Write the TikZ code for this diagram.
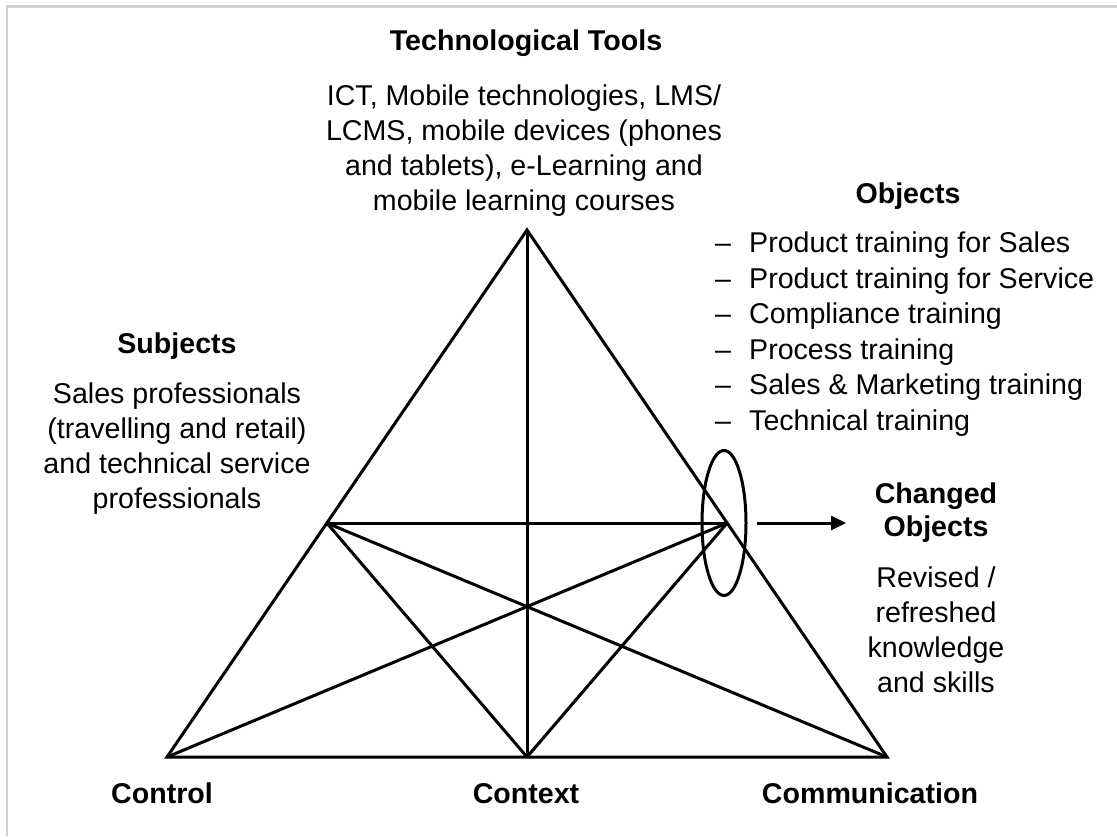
\documentclass[tikz,border=0pt]{standalone}
\usepackage{fontspec}
\setmainfont{Liberation Sans}
\usetikzlibrary{shapes.geometric,arrows.meta,calc}
\definecolor{framegray}{RGB}{208,208,208}
\begin{document}
\begin{tikzpicture}[x=1pt,y=-1pt,
  edge/.style={line width=3pt, line join=miter},
  txt/.style={font=\fontsize{28.6}{35}\selectfont, inner sep=0pt, align=center, anchor=base},
  ttl/.style={txt, font=\fontsize{28.6}{35}\selectfont\bfseries},
]
\useasboundingbox (0,0) rectangle (1117,836);
\draw[framegray, line width=2.5pt] (7,836) -- (7,6.5) -- (1117,6.5);
% triangle
\coordinate (A) at (527,230);
\coordinate (L) at (167,757);
\coordinate (M) at (527,757);
\coordinate (R) at (887,757);
\coordinate (P) at ($(A)!0.556!(L)$);
\coordinate (Q) at ($(A)!0.556!(R)$);
\draw[edge] (A) -- (L) -- (R) -- cycle;
\draw[edge] (A) -- (M);
\draw[edge] (P) -- (Q);
\draw[edge] (P) -- (M);
\draw[edge] (P) -- (R);
\draw[edge] (Q) -- (M);
\draw[edge] (Q) -- (L);
% ellipse and arrow
\node[draw, ellipse, line width=3pt, minimum width=44pt, minimum height=145pt, inner sep=0pt] (ell) at (724,523) {};
\coordinate (arrtip) at (846,523);
\draw[line width=3pt, -{Triangle[length=15pt,width=14pt]}] ([xshift=9pt]ell.east) -- (arrtip);
% texts (anchor=base is the baseline of the last line)
\node[ttl] (tools) at (526,50) {Technological Tools};
\node[txt, font=\fontsize{28.6}{34.7}\selectfont] (toolsd) at (524,210) {ICT, Mobile technologies, LMS/\\LCMS, mobile devices (phones\\and tablets), e-Learning and\\mobile learning courses};
\node[ttl] (obj) at (908,203) {Objects};
\node[txt, font=\fontsize{28.6}{35.5}\selectfont, align=left, anchor=base west] (objd) at (715,430) {\makebox[34pt][l]{–}Product training for Sales\\\makebox[34pt][l]{–}Product training for Service\\\makebox[34pt][l]{–}Compliance training\\\makebox[34pt][l]{–}Process training\\\makebox[34pt][l]{–}Sales \& Marketing training\\\makebox[34pt][l]{–}Technical training};
\node[ttl] (subj) at (177,353) {Subjects};
\node[txt] (subjd) at (177,508) {Sales professionals\\(travelling and retail)\\and technical service\\professionals};
\node[ttl, font=\fontsize{28.6}{33}\selectfont\bfseries] (chg) at (936,536) {Changed\\Objects};
\node[txt] (chgd) at (936,692) {Revised /\\refreshed\\knowledge\\and skills};
\node[ttl] (ctl) at (162,803) {Control};
\node[ttl] (ctx) at (526,803) {Context};
\node[ttl] (com) at (870,803) {Communication};
\end{tikzpicture}
\end{document}
